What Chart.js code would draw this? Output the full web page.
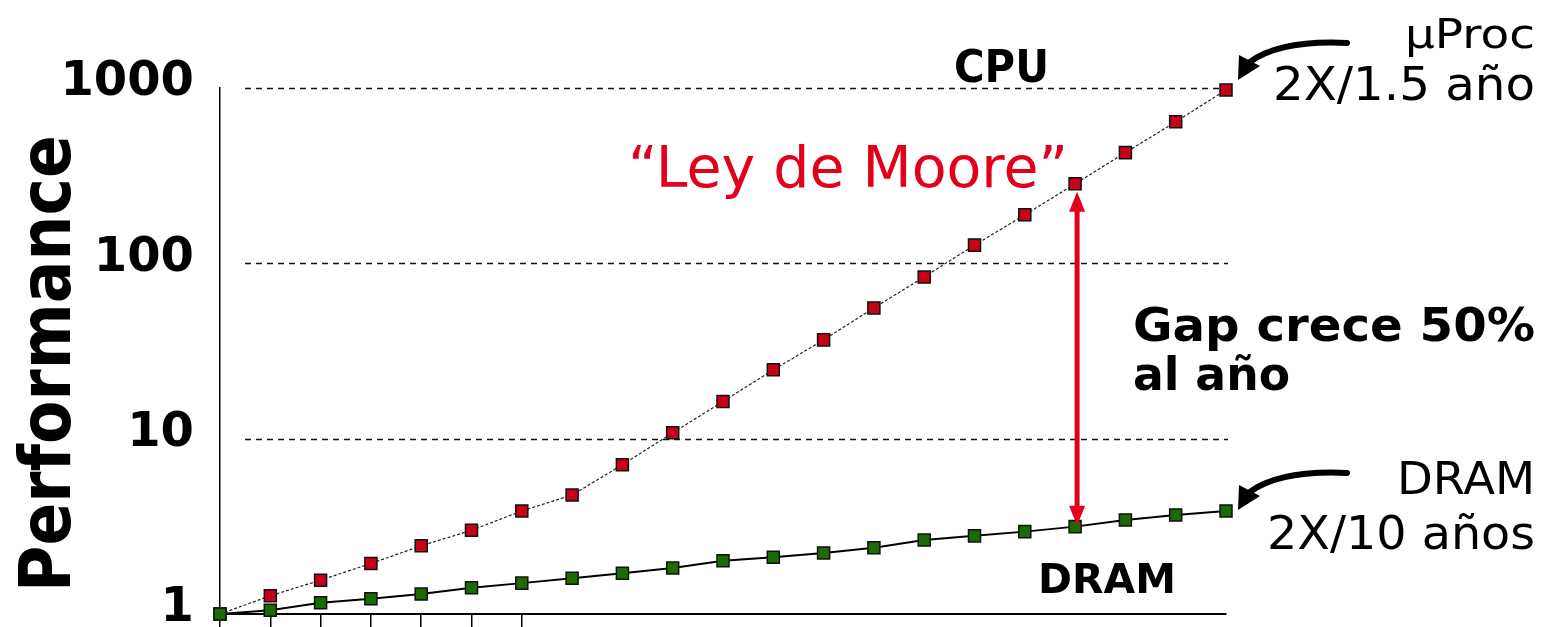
<!DOCTYPE html>
<html>
<head>
<meta charset="utf-8">
<script src="https://cdn.jsdelivr.net/npm/chart.js@4.4.1/dist/chart.umd.min.js"></script>
<style>
  html, body { margin: 0; padding: 0; background: #fff; }
  #wrap { position: relative; width: 1549px; height: 627px; }
</style>
</head>
<body>
<div id="wrap"><canvas id="perfChart"></canvas></div>
<script>
// data (log scale, 1980 = 1)
const years = [1980, 1981, 1982, 1983, 1984, 1985, 1986, 1987, 1988, 1989, 1990,
  1991, 1992, 1993, 1994, 1995, 1996, 1997, 1998, 1999, 2000];
const cpuPerf = [1, 1.27, 1.56, 1.94, 2.45, 3.0, 3.87, 4.77, 7.1, 10.8, 16.3,
  24.7, 36.6, 55.7, 83.6, 127, 189, 284, 428, 641, 975];
const dramPerf = [1, 1.05, 1.16, 1.22, 1.30, 1.41, 1.50, 1.60, 1.71, 1.83, 2.01,
  2.11, 2.23, 2.39, 2.64, 2.79, 2.95, 3.15, 3.44, 3.67, 3.87];
const yTicks = [1, 10, 100, 1000];
const tickedYears = [1980, 1981, 1982, 1983, 1984, 1985, 1986];
const gapYear = 1997;

const FONT = '"DejaVu Sans", Verdana, sans-serif';
const RED = '#e2001a';

// draws text stretched/squeezed to a given width
function fitText(ctx, text, x, y, w, font, align) {
  ctx.font = font;
  const m = ctx.measureText(text).width;
  ctx.save();
  ctx.translate(x, y);
  ctx.scale(w / m, 1);
  ctx.textAlign = 'left';
  ctx.textBaseline = 'alphabetic';
  ctx.fillText(text, align === 'right' ? -m : 0, 0);
  ctx.restore();
}

function curvedArrow(ctx, tx, ty) {
  ctx.save();
  ctx.strokeStyle = '#000';
  ctx.fillStyle = '#000';
  ctx.lineWidth = 6;
  ctx.lineCap = 'round';
  ctx.beginPath();
  ctx.moveTo(tx + 109, ty - 37);
  ctx.quadraticCurveTo(tx + 42, ty - 40, tx + 12, ty - 18);
  ctx.stroke();
  ctx.beginPath();
  ctx.moveTo(tx, ty);
  ctx.lineTo(tx + 1, ty - 25);
  ctx.lineTo(tx + 22, ty - 14);
  ctx.closePath();
  ctx.fill();
  ctx.restore();
}

const annotations = {
  id: 'annotations',
  beforeDatasetsDraw(chart) {
    const { ctx, chartArea, scales: { y } } = chart;
    ctx.save();
    ctx.strokeStyle = '#111';
    ctx.lineWidth = 1.4;
    ctx.setLineDash([6, 5]);
    yTicks.slice(1).forEach(v => {
      const py = Math.round(y.getPixelForValue(v)) + 0.5;
      ctx.beginPath();
      ctx.moveTo(chartArea.left + 25, py);
      ctx.lineTo(chartArea.right + 2, py);
      ctx.stroke();
    });
    ctx.restore();
  },
  afterDatasetsDraw(chart) {
    const { ctx, scales: { x, y } } = chart;

    // gap arrow
    const i = years.indexOf(gapYear);
    const gx = x.getPixelForValue(gapYear) + 2;
    const top = y.getPixelForValue(cpuPerf[i]) + 8;
    const bot = y.getPixelForValue(dramPerf[i]) - 1;
    ctx.save();
    ctx.strokeStyle = RED;
    ctx.fillStyle = RED;
    ctx.lineWidth = 5;
    ctx.beginPath();
    ctx.moveTo(gx, top + 15);
    ctx.lineTo(gx, bot - 15);
    ctx.stroke();
    ctx.beginPath();
    ctx.moveTo(gx, top);
    ctx.lineTo(gx - 8, top + 20);
    ctx.lineTo(gx + 8, top + 20);
    ctx.closePath();
    ctx.fill();
    ctx.beginPath();
    ctx.moveTo(gx, bot);
    ctx.lineTo(gx - 8, bot - 20);
    ctx.lineTo(gx + 8, bot - 20);
    ctx.closePath();
    ctx.fill();
    ctx.restore();

    // curved arrows toward the last points
    const n = years.length - 1;
    const lx = x.getPixelForValue(years[n]);
    curvedArrow(ctx, lx + 12, y.getPixelForValue(cpuPerf[n]) - 10);
    curvedArrow(ctx, lx + 12, y.getPixelForValue(dramPerf[n]) - 1);

    // texts
    ctx.save();
    ctx.fillStyle = '#000';
    fitText(ctx, 'CPU', 954, 82, 95, 'bold 44px ' + FONT);
    fitText(ctx, 'DRAM', 1038, 593, 138, 'bold 41px ' + FONT);
    fitText(ctx, 'Gap crece 50%', 1133, 341, 402, 'bold 47px ' + FONT);
    fitText(ctx, 'al año', 1133, 390, 157, 'bold 47px ' + FONT);
    fitText(ctx, 'µProc', 1535, 48, 130, '41px ' + FONT, 'right');
    fitText(ctx, '2X/1.5 año', 1535, 100, 262, '46px ' + FONT, 'right');
    fitText(ctx, 'DRAM', 1535, 494, 138, '45px ' + FONT, 'right');
    fitText(ctx, '2X/10 años', 1535, 549, 268, '46px ' + FONT, 'right');
    ctx.fillStyle = RED;
    fitText(ctx, '\u201cLey de Moore\u201d', 628, 187, 440, '57px ' + FONT);
    ctx.fillStyle = '#000';
    ctx.translate(70, 592);
    ctx.rotate(-Math.PI / 2);
    fitText(ctx, 'Performance', 0, 0, 457, 'bold 72px ' + FONT);
    ctx.restore();
  }
};

new Chart(document.getElementById('perfChart'), {
  type: 'line',
  data: {
    datasets: [
      {
        label: 'CPU',
        data: years.map((yr, i) => ({ x: yr, y: cpuPerf[i] })),
        order: 1,
        borderColor: '#222',
        borderWidth: 1.2,
        borderDash: [3, 2],
        pointStyle: 'rect',
        pointRadius: 8.5,
        pointBackgroundColor: '#c8001a',
        pointBorderColor: '#111',
        pointBorderWidth: 1.5,
        tension: 0,
        clip: false
      },
      {
        label: 'DRAM',
        data: years.map((yr, i) => ({ x: yr, y: dramPerf[i] })),
        order: 0,
        borderColor: '#000',
        borderWidth: 2,
        pointStyle: 'rect',
        pointRadius: 8.5,
        pointBackgroundColor: '#1d6b00',
        pointBorderColor: '#111',
        pointBorderWidth: 1.5,
        tension: 0,
        clip: false
      }
    ]
  },
  options: {
    responsive: true,
    maintainAspectRatio: false,
    animation: false,
    events: [],
    layout: { padding: { top: 88, right: 323, bottom: 0, left: 0 } },
    plugins: { legend: { display: false }, tooltip: { enabled: false } },
    scales: {
      x: {
        type: 'linear',
        min: years[0],
        max: years[years.length - 1],
        ticks: { display: false, stepSize: 1 },
        grid: {
          drawOnChartArea: false,
          drawTicks: true,
          tickLength: 13,
          lineWidth: 1.5,
          color: c => (c.tick && tickedYears.includes(c.tick.value)) ? '#000' : 'rgba(0,0,0,0)'
        },
        border: { display: true, color: '#000', width: 2 },
        afterFit: s => { s.height = 13; s.paddingLeft = 0; s.paddingRight = 0; }
      },
      y: {
        type: 'logarithmic',
        min: 1,
        max: 1000,
        afterBuildTicks: s => { s.ticks = yTicks.map(v => ({ value: v })); },
        ticks: {
          color: '#000',
          padding: 18,
          labelOffset: -5,
          font: { family: FONT, weight: 'bold', size: 48 },
          callback: v => String(v)
        },
        grid: { display: false },
        border: { display: true, color: '#000', width: 1.5 },
        afterFit: s => { s.width = 220; s.paddingTop = 0; s.paddingBottom = 0; }
      }
    }
  },
  plugins: [annotations]
});
</script>
</body>
</html>
